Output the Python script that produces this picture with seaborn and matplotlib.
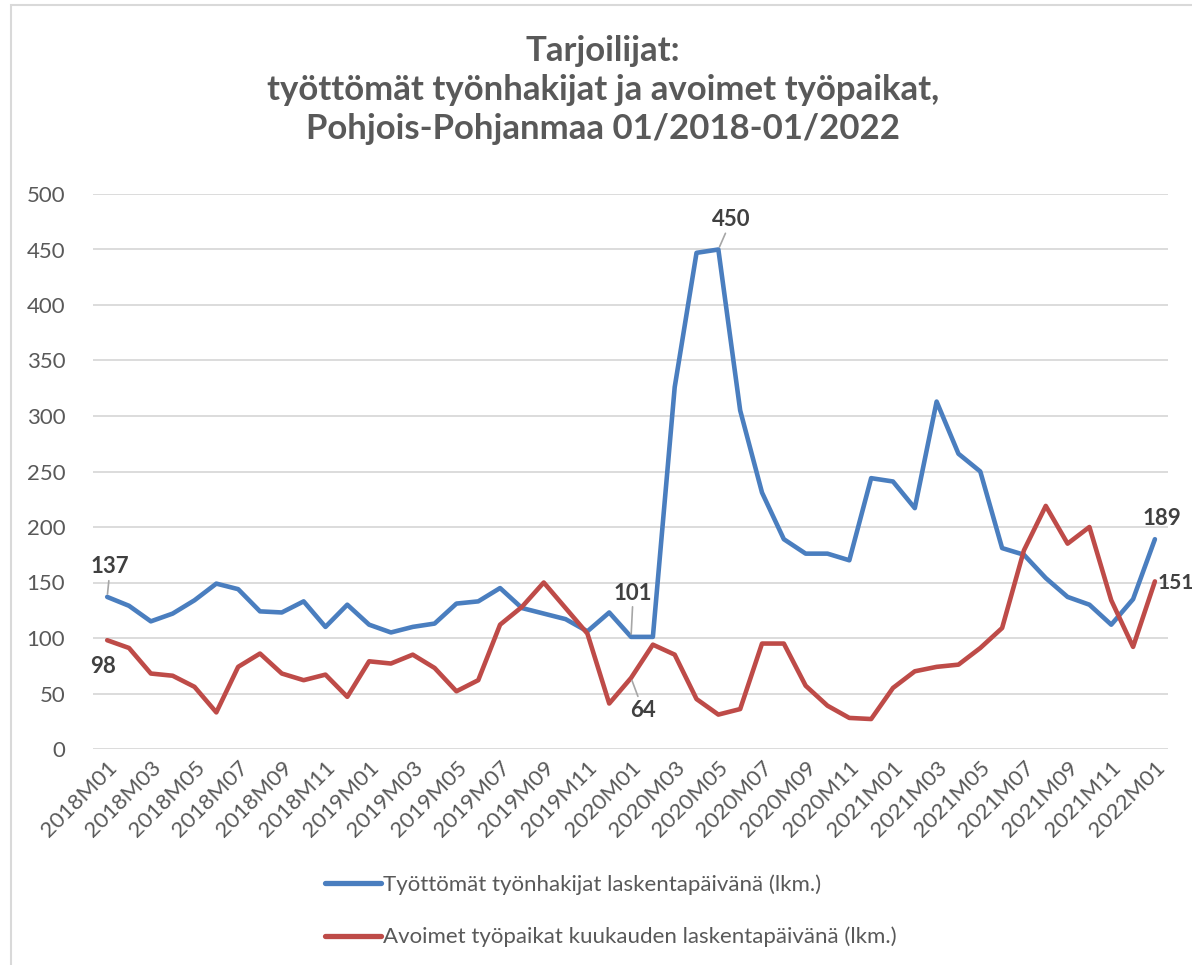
import matplotlib
matplotlib.use("Agg")
import matplotlib.pyplot as plt
import seaborn as sns
import pandas as pd
import numpy as np
from matplotlib.patches import Rectangle

months = [f"{y}M{m:02d}" for y in range(2018, 2022) for m in range(1, 13)] + ["2022M01"]

tyottomat = [137, 129, 115, 122, 134, 149, 144, 124, 123, 133, 110, 130,
             112, 105, 110, 113, 131, 133, 145, 127, 122, 117, 106, 123,
             101, 101, 326, 447, 450, 305, 231, 189, 176, 176, 170, 244,
             241, 217, 313, 266, 250, 181, 175, 154, 137, 130, 112, 135,
             189]
avoimet = [98, 91, 68, 66, 56, 33, 74, 86, 68, 62, 67, 47,
           79, 77, 85, 73, 52, 62, 112, 128, 150, 127, 104, 41,
           64, 94, 85, 45, 31, 36, 95, 95, 57, 39, 28, 27,
           55, 70, 74, 76, 91, 109, 179, 219, 185, 200, 134, 92,
           151]

series_names = ["Työttömät työnhakijat laskentapäivänä (lkm.)",
                "Avoimet työpaikat kuukauden laskentapäivänä (lkm.)"]
title_text = "Tarjoilijat:\ntyöttömät työnhakijat ja avoimet työpaikat,\nPohjois-Pohjanmaa 01/2018-01/2022"

sns.set_theme(style="white")
plt.rcParams['font.family'] = ['Lato', 'DejaVu Sans']

df = pd.DataFrame({
    "idx": list(range(len(months))) * 2,
    "value": tyottomat + avoimet,
    "series": [series_names[0]] * len(months) + [series_names[1]] * len(months),
})

fig = plt.figure(figsize=(11.92, 9.65), dpi=100)
ax = fig.add_axes([93 / 1192, 1 - 749 / 965, (1168 - 93) / 1192, (749 - 194) / 965])

palette = {series_names[0]: "#4A7EBF", series_names[1]: "#BE4B48"}
sns.lineplot(data=df, x="idx", y="value", hue="series", palette=palette,
             linewidth=3.3, ax=ax, legend=True, solid_capstyle="round", solid_joinstyle="round")

ax.set_xlim(-0.65, 48.6)
ax.set_ylim(0, 500)
ax.set_yticks(range(0, 501, 50))
ax.yaxis.grid(True, color="#D9D9D9", linewidth=1.3)
ax.xaxis.grid(False)
for s in ax.spines.values():
    s.set_visible(False)
ax.set_xlabel("")
ax.set_ylabel("")
ax.tick_params(axis="y", length=0, pad=20, labelsize=16, labelcolor="#595959")
ax.tick_params(axis="x", length=0, pad=6, labelsize=16, labelcolor="#595959")
xt = list(range(0, len(months), 2))
ax.set_xticks(xt)
ax.set_xticklabels([months[i] for i in xt], rotation=45, ha="right", rotation_mode="anchor")

leg = ax.get_legend()
handles, labels = ax.get_legend_handles_labels()
leg.remove()
fig.legend(handles, labels, loc="upper left", bbox_to_anchor=(325 / 1192, 1 - 874 / 965),
           frameon=False, fontsize=16, labelcolor="#595959", handlelength=2.5,
           handletextpad=0.1, labelspacing=1.45, borderpad=0, borderaxespad=0)
for h in fig.legends[0].get_lines():
    h.set_linewidth(3.8)

fig.text(0.506, 1 - 90 / 965, title_text, ha="center", va="center", fontsize=25,
         fontweight="bold", color="#595959", linespacing=1.26)

lab_kw = dict(fontsize=16, fontweight="bold", color="#404040", ha="center", va="center",
              annotation_clip=False)
arrow = dict(arrowstyle="-", color="#A6A6A6", lw=1.2, shrinkA=0, shrinkB=2)
ax.annotate(str(tyottomat[0]), xy=(0, tyottomat[0]), xytext=(0.14, 164), arrowprops=arrow, **lab_kw)
ax.annotate(str(avoimet[0]), xy=(0, avoimet[0]), xytext=(-0.18, 74), **lab_kw)
ax.annotate(str(tyottomat[24]), xy=(24, tyottomat[24]), xytext=(24.1, 140.5), arrowprops=arrow, **lab_kw)
ax.annotate(str(avoimet[24]), xy=(24, avoimet[24]), xytext=(24.55, 35), arrowprops=arrow, **lab_kw)
ax.annotate(str(tyottomat[28]), xy=(28, tyottomat[28]), xytext=(28.6, 477), arrowprops=arrow, **lab_kw)
ax.annotate(str(tyottomat[48]), xy=(48, tyottomat[48]), xytext=(48.33, 208), **lab_kw)
kw151 = dict(lab_kw)
kw151["ha"] = "left"
kw151["fontsize"] = 15
ax.annotate(str(avoimet[48]), xy=(48, avoimet[48]), xytext=(48.1, 149.5), **kw151)

fig.patches.append(Rectangle((11 / 1192, -0.01), 1.02, 1 - 5 / 965 + 0.01, transform=fig.transFigure,
                             fill=False, edgecolor="#D9D9D9", linewidth=1.5, zorder=0))

fig.savefig("out.png", dpi=100)
